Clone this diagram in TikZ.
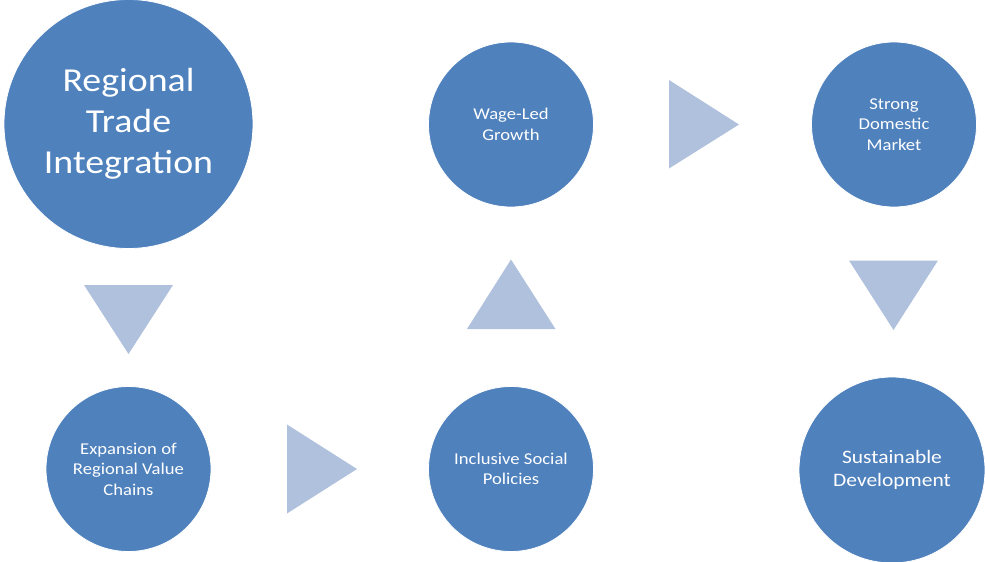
\documentclass[tikz,border=0pt]{standalone}
\usepackage{fontspec}
\setmainfont{Carlito}[FakeStretch=1.13]
\begin{document}
\definecolor{discblue}{HTML}{4F81BD}
\definecolor{arrowblue}{HTML}{B0C1DD}
\begin{tikzpicture}[x=1pt,y=-1pt,
  disc/.style={circle, fill=discblue, draw=white, line width=0.8pt, inner sep=0pt,
    text=white, align=center},
  smalltext/.style={font=\fontsize{16.5}{20.5}\selectfont},
  arrowhead/.style={fill=arrowblue, draw=none}]
\useasboundingbox (0,0) rectangle (985,562);

% process steps
\node[disc, minimum size=249pt, font=\fontsize{33.5}{41}\selectfont] (rti) at (128.5,124)
  {Regional\\Trade\\Integration};
\node[disc, minimum size=165pt, smalltext] (rvc) at (128.5,469)
  {Expansion of\\Regional Value\\Chains};
\node[disc, minimum size=165pt, smalltext] (isp) at (511,469)
  {Inclusive Social\\Policies};
\node[disc, minimum size=165pt, smalltext] (wlg) at (511,124.5)
  {Wage-Led\\Growth};
\node[disc, minimum size=165pt, smalltext] (sdm) at (894,124.5)
  {Strong\\Domestic\\Market};
\node[disc, minimum size=186pt, font=\fontsize{19}{23}\selectfont] (sd) at (892,470)
  {Sustainable\\Development};

% triangular arrows between steps
\path[arrowhead] (84,285) -- (173,285) -- (128.5,354) -- cycle;
\path[arrowhead] (287,424.5) -- (287,513.5) -- (357,469) -- cycle;
\path[arrowhead] (467,329) -- (555.5,329) -- (511,259.5) -- cycle;
\path[arrowhead] (669,80) -- (669,168.5) -- (739,124.5) -- cycle;
\path[arrowhead] (849,260.5) -- (938,260.5) -- (893.5,330) -- cycle;
\end{tikzpicture}
\end{document}
